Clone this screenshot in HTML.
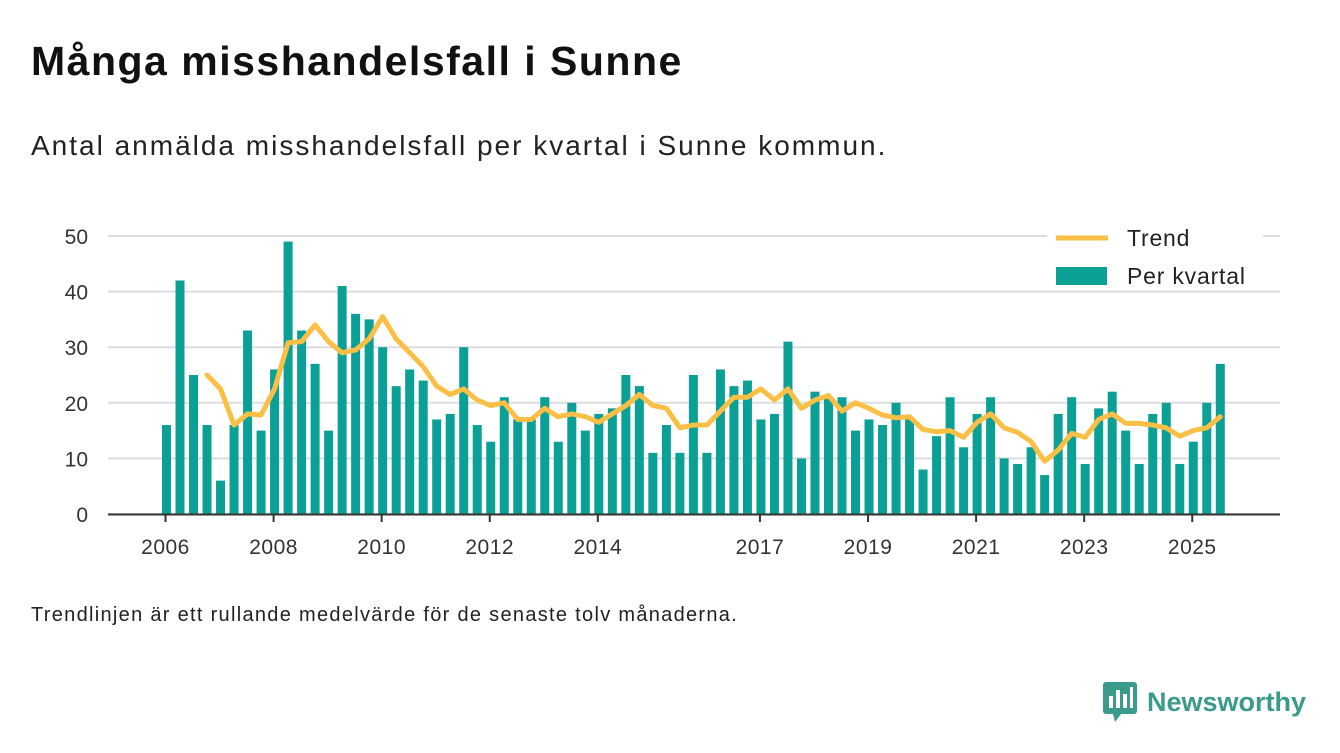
<!DOCTYPE html>
<html><head><meta charset="utf-8"><style>
body{margin:0;width:1340px;height:753px;background:#fff;font-family:"Liberation Sans",sans-serif;overflow:hidden;position:relative;color:#111}
.t{position:absolute;left:31px;top:38px;font-size:41px;font-weight:bold;letter-spacing:1.5px}
.s{position:absolute;left:31px;top:130px;font-size:28px;color:#222;letter-spacing:2px}
.f{position:absolute;left:31px;top:604px;font-size:20px;color:#222;letter-spacing:1.3px}
svg{position:absolute;left:0;top:0}
</style></head><body>
<div class="t">Många misshandelsfall i Sunne</div>
<div class="s">Antal anmälda misshandelsfall per kvartal i Sunne kommun.</div>
<div class="f">Trendlinjen är ett rullande medelvärde för de senaste tolv månaderna.</div>
<svg id="c" width="1340" height="753"></svg>
<div style="position:absolute;left:1103px;top:683px;height:38px;display:flex;align-items:center">
<svg width="34" height="40" style="position:static"><rect x="0" y="0" width="34" height="32" rx="3" fill="#3a9a8c"/><polygon points="10,32 18,32 12,40" fill="#3a9a8c"/><rect x="6" y="14" width="4" height="12" fill="#fff"/><rect x="13" y="8" width="4" height="18" fill="#fff"/><rect x="20" y="12" width="4" height="14" fill="#fff"/><rect x="27" y="5" width="3" height="21" fill="#fff"/></svg>
<span style="margin-left:10px;font-size:27px;font-weight:bold;color:#3a9a8c">Newsworthy</span></div>
<script>
const values=[16,42,25,16,6,16,33,15,26,49,33,27,15,41,36,35,30,23,26,24,17,18,30,16,13,21,17,17,21,13,20,15,18,19,25,23,11,16,11,25,11,26,23,24,17,18,31,10,22,21,21,15,17,16,20,17,8,14,21,12,18,21,10,9,12,7,18,21,9,19,22,15,9,18,20,9,13,20,27];
const trend=[25,22.5,16,18,17.8,22.5,30.8,31,34,31,29,29.5,31.5,35.5,31.5,29,26.5,23,21.5,22.5,20.5,19.5,20,17,17,19,17.5,18,17.5,16.5,18,19.5,21.5,19.5,19,15.5,16,16,18.5,21,21,22.5,20.5,22.5,19,20.5,21.3,18.5,20,19,17.8,17.3,17.5,15.2,14.8,15,13.8,16.5,18,15.5,14.7,13,9.5,11.5,14.5,13.8,17,18,16.3,16.3,16,15.5,14,15,15.5,17.5];
const trendStart=3;
const yTicks=[0,10,20,30,40,50];
const yearTicks=[2006,2008,2010,2012,2014,2017,2019,2021,2023,2025];
const svg=document.getElementById('c');const NS='http://www.w3.org/2000/svg';
const x=i=>166.5+i*13.51; const y=v=>514-v*5.56;
function mk(t,a){const e=document.createElementNS(NS,t);for(const k in a)e.setAttribute(k,a[k]);svg.appendChild(e);return e;}
yTicks.forEach(v=>{const g=mk('line',{x1:108,x2:1280,y1:y(v),y2:y(v),stroke:'#ddd','stroke-width':2});


const t=mk('text',{x:88,y:y(v)+8,'text-anchor':'end','font-size':21,fill:'#333','font-family':'Liberation Sans'});t.textContent=v;

});
values.forEach((v,i)=>{const r=mk('rect',{x:x(i)-4.5,y:y(v),width:9,height:514-y(v),fill:'#0aa095'});

});
const p=mk('polyline',{points:trend.map((v,i)=>x(i+trendStart)+','+y(v)).join(' '),fill:'none',stroke:'#fcbf45','stroke-width':5,'stroke-linejoin':'round','stroke-linecap':'round'});


const ax=mk('line',{x1:108,x2:1280,y1:514.5,y2:514.5,stroke:'#333','stroke-width':2});


yearTicks.forEach(yr=>{const xx=x((yr-2006)*4)-1;mk('line',{x1:xx,x2:xx,y1:514,y2:522,stroke:'#333','stroke-width':2});
const t=mk('text',{x:xx,y:554,'text-anchor':'middle','font-size':21,fill:'#333','font-family':'Liberation Sans','letter-spacing':0.5});t.textContent=yr;

});
const lb=mk('rect',{x:1047,y:222,width:216,height:68,fill:'#fff'});


const l1=mk('line',{x1:1056,x2:1108,y1:238,y2:238,stroke:'#fcbf45','stroke-width':5});


const t1=mk('text',{x:1127,y:246,'font-size':23,fill:'#222','font-family':'Liberation Sans','letter-spacing':0.8});t1.textContent='Trend';


const r2=mk('rect',{x:1056,y:267,width:51,height:18,fill:'#0aa095'});


const t2=mk('text',{x:1127,y:284,'font-size':23,fill:'#222','font-family':'Liberation Sans','letter-spacing':0.8});t2.textContent='Per kvartal';


</script>
</body></html>
